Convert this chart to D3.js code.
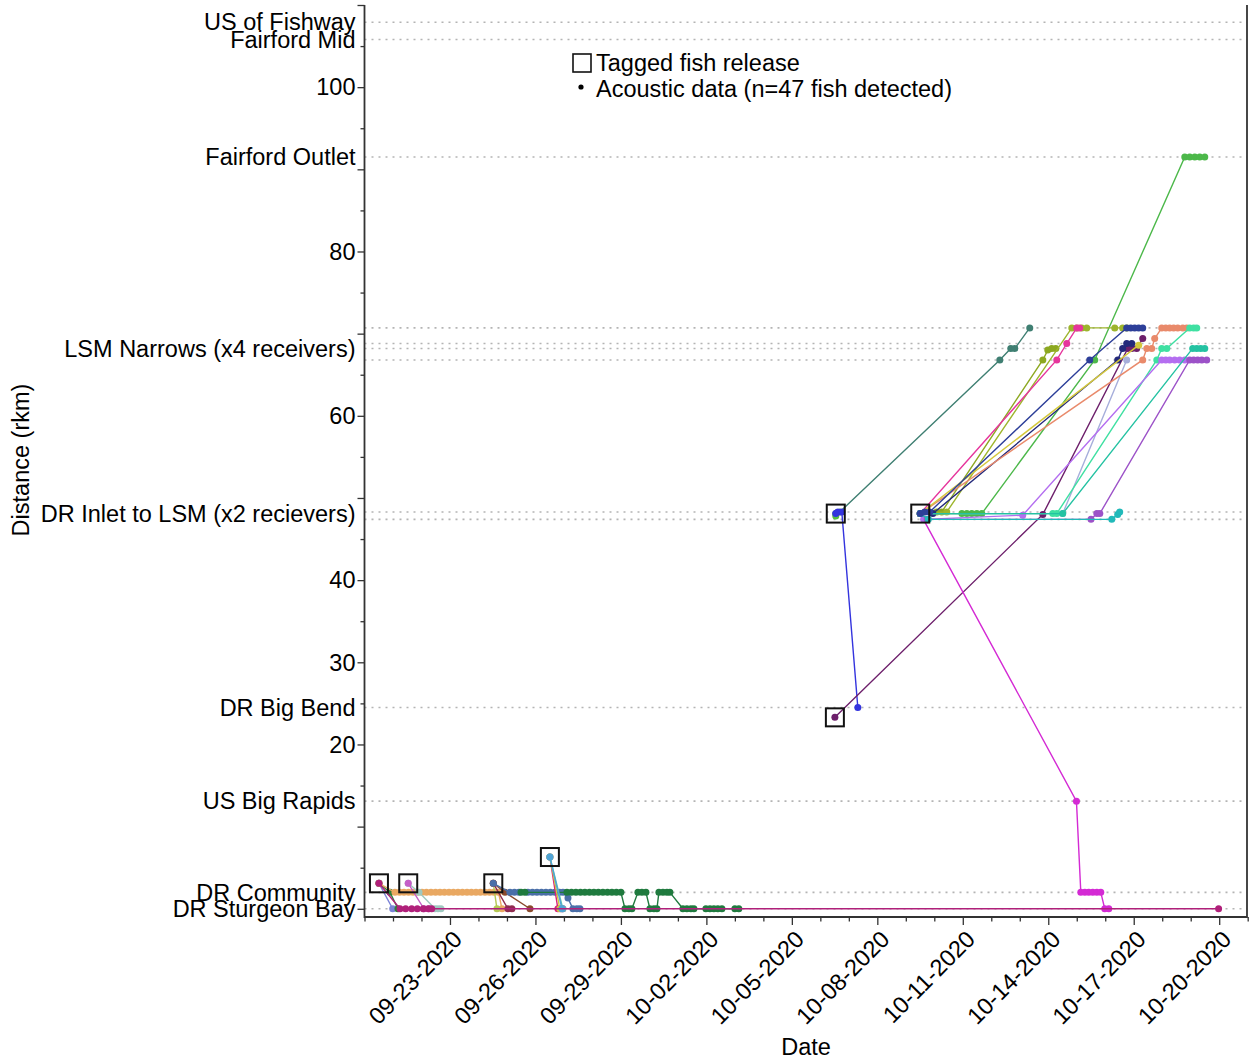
<!DOCTYPE html>
<html>
<head>
<meta charset="utf-8">
<script src="https://cdn.jsdelivr.net/npm/d3@7"></script>
<style>
  body { margin: 0; background: #fff; }
  text { font-family: "Liberation Sans", Arial, sans-serif; fill: #000; }
</style>
</head>
<body>
<svg id="chart" width="1249" height="1061"></svg>
<script>
// ---- receiver sites (river km) ----
const receiverRkm = [107.9, 105.8, 91.5, 70.7, 68.8, 68.2, 66.8, 48.3, 47.4, 24.5, 13.1, 2.0, 0];

const siteLabels = [
  { name: "US of Fishway", rkm: 107.9 },
  { name: "Fairford Mid", rkm: 105.8 },
  { name: "Fairford Outlet", rkm: 91.5 },
  { name: "LSM Narrows (x4 receivers)", rkm: 68.2 },
  { name: "DR Inlet to LSM (x2 recievers)", rkm: 48.1 },
  { name: "DR Big Bend", rkm: 24.5 },
  { name: "US Big Rapids", rkm: 13.1 },
  { name: "DR Community", rkm: 2.0 },
  { name: "DR Sturgeon Bay", rkm: 0 }
];

const yTickLabels = [20, 30, 40, 60, 80, 100];

// ---- tagged fish release events [date, rkm] ----
const releases = [
  ["09-20 12:10", 3.1],
  ["09-21 12:50", 3.1],
  ["09-24 12:30", 3.1],
  ["09-26 12:10", 6.3],
  ["10-06 13:00", 48.1],
  ["10-06 12:15", 23.3],
  ["10-09 12:10", 48.1]
];

// ---- acoustic detections, one array per fish [date, rkm] ----
const tracks = [
  // released near DR Community, 09-20 to 09-26
  [["09-20 12:10", 3.1], ["09-20 23:45", 0]],
  [["09-20 12:10", 3.1], ["09-20 21:30", 2.0], ["09-21 04:10", 0]],
  [["09-20 12:10", 3.1], ["09-21 01:40", 2], ["09-21 05:30", 2], ["09-21 09:15", 2], ["09-21 13:05", 2],
   ["09-21 16:50", 2], ["09-21 20:35", 2], ["09-22 00:25", 2], ["09-22 04:10", 2], ["09-22 08:00", 2],
   ["09-22 11:50", 2], ["09-22 15:35", 2], ["09-22 19:20", 2], ["09-22 23:10", 2], ["09-23 02:55", 2],
   ["09-23 06:45", 2], ["09-23 10:30", 2], ["09-23 14:20", 2], ["09-23 18:05", 2], ["09-23 21:55", 2],
   ["09-24 01:40", 2], ["09-24 05:30", 2], ["09-24 09:15", 2], ["09-24 13:05", 2], ["09-24 16:50", 2],
   ["09-24 19:50", 0]],
  [["09-21 12:50", 3.1], ["09-21 21:55", 2.0], ["09-22 11:25", 0], ["09-22 13:55", 0], ["09-22 16:25", 0]],
  [["09-21 12:50", 3.1], ["09-22 02:05", 0], ["09-22 06:20", 0]],
  [["09-24 12:30", 3.1], ["09-24 22:20", 2.0], ["09-25 19:25", 0]],
  [["09-24 12:30", 3.1], ["09-24 15:35", 0]],
  [["09-24 12:30", 3.1], ["09-25 00:50", 0], ["09-25 04:10", 0]],
  [["09-24 12:30", 3.1], ["09-25 02:30", 2], ["09-25 06:20", 2], ["09-25 10:05", 2], ["09-25 17:40", 2],
   ["09-25 21:30", 2], ["09-26 01:15", 2], ["09-26 05:05", 2], ["09-26 08:50", 2], ["09-26 12:40", 2],
   ["09-26 16:25", 2], ["09-26 20:10", 2], ["09-26 23:10", 2], ["09-27 03:25", 1.3], ["09-27 07:35", 0],
   ["09-27 10:55", 0], ["09-27 13:30", 0]],
  [["09-25 11:50", 2], ["09-25 15:10", 2], ["09-27 02:30", 2], ["09-27 06:20", 2], ["09-27 10:05", 2],
   ["09-27 13:55", 2], ["09-27 17:40", 2], ["09-27 21:30", 2], ["09-28 01:15", 2], ["09-28 05:00", 2],
   ["09-28 08:50", 2], ["09-28 12:40", 2], ["09-28 16:25", 2], ["09-28 20:10", 2], ["09-29 00:00", 2],
   ["09-29 03:25", 0], ["09-29 06:45", 0], ["09-29 09:15", 0],
   ["09-29 14:20", 2], ["09-29 17:40", 2], ["09-29 21:05", 2],
   ["09-30 00:25", 0], ["09-30 03:50", 0], ["09-30 06:20", 0],
   ["09-30 08:00", 2], ["09-30 11:25", 2], ["09-30 14:45", 2], ["09-30 17:15", 2],
   ["10-01 04:15", 0], ["10-01 07:35", 0], ["10-01 11:00", 0], ["10-01 13:30", 0],
   ["10-01 23:35", 0], ["10-02 03:00", 0], ["10-02 06:20", 0], ["10-02 09:40", 0], ["10-02 13:05", 0],
   ["10-03 00:00", 0], ["10-03 03:20", 0]],
  [["09-26 12:10", 6.3], ["09-26 18:55", 0], ["09-26 21:30", 0], ["09-26 23:05", 0]],
  [["09-26 12:10", 6.3], ["09-26 20:35", 0]],
  [["09-26 12:10", 6.3], ["09-26 23:05", 0]],
  [["09-26 12:10", 6.3], ["09-26 22:20", 0]],
  // released at the DR Inlet and DR Big Bend, 10-06
  [["10-06 13:00", 48.1], ["10-06 16:25", 48.3], ["10-12 07:10", 66.8], ["10-12 16:25", 68.2],
   ["10-12 19:50", 68.2], ["10-13 08:25", 70.7]],
  [["10-06 13:00", 47.8]],
  [["10-06 13:00", 48.1], ["10-06 14:40", 48.3], ["10-06 18:05", 48.3], ["10-07 07:35", 24.5]],
  [["10-06 12:15", 23.3], ["10-13 19:25", 48.0], ["10-16 19:00", 68.2], ["10-16 22:20", 68.2],
   ["10-17 02:30", 68.2], ["10-17 07:35", 69.4]],
  // released at the DR Inlet, 10-09
  [["10-09 12:10", 48.1], ["10-14 23:45", 13.1], ["10-15 03:25", 2], ["10-15 06:50", 2], ["10-15 10:05", 2],
   ["10-15 13:30", 2], ["10-15 16:55", 2], ["10-15 20:15", 2], ["10-15 23:35", 0], ["10-16 03:00", 0]],
  [["10-09 12:10", 48.1], ["10-10 23:15", 48.1], ["10-11 03:25", 48.1], ["10-11 07:35", 48.1],
   ["10-11 11:50", 48.1], ["10-11 16:00", 48.1], ["10-15 15:10", 66.8], ["10-18 19:00", 91.5],
   ["10-18 23:10", 91.5], ["10-19 03:25", 91.5], ["10-19 07:35", 91.5], ["10-19 11:50", 91.5]],
  [["10-09 12:10", 48.1], ["10-10 02:05", 48.3], ["10-10 06:15", 48.3], ["10-13 19:25", 66.8],
   ["10-13 23:35", 68.0], ["10-14 02:55", 68.2], ["10-14 06:20", 68.2]],
  [["10-09 12:10", 48.1], ["10-10 10:30", 48.3], ["10-14 19:50", 70.7], ["10-15 00:00", 70.7],
   ["10-15 04:10", 70.7], ["10-15 08:25", 70.7], ["10-16 08:00", 70.7], ["10-16 14:40", 70.7],
   ["10-16 18:05", 70.7]],
  [["10-09 12:10", 48.1], ["10-14 07:10", 66.8], ["10-14 15:35", 68.8], ["10-15 00:00", 70.7],
   ["10-15 02:30", 70.7]],
  [["10-09 12:10", 48.1], ["10-09 22:45", 48.1], ["10-16 10:30", 66.8], ["10-16 14:40", 68.2],
   ["10-16 18:05", 68.8], ["10-16 22:20", 68.8]],
  [["10-09 12:10", 48.1], ["10-14 12:10", 48.1], ["10-16 18:05", 66.8]],
  [["10-09 12:10", 48.1], ["10-17 07:35", 66.8], ["10-17 11:00", 68.2], ["10-17 15:10", 68.2],
   ["10-17 17:40", 69.4], ["10-17 23:35", 70.7], ["10-18 03:00", 70.7], ["10-18 06:20", 70.7],
   ["10-18 09:40", 70.7], ["10-18 13:05", 70.7], ["10-18 17:20", 70.7], ["10-18 20:40", 70.7]],
  [["10-09 12:10", 48.1], ["10-17 04:10", 68.6]],
  [["10-09 12:10", 48.1], ["10-14 03:50", 48.1], ["10-14 07:10", 48.1], ["10-17 19:25", 66.8],
   ["10-17 23:35", 68.2], ["10-18 03:50", 68.2], ["10-18 23:10", 70.7], ["10-19 02:30", 70.7],
   ["10-19 05:05", 70.7]],
  [["10-09 12:10", 48.1], ["10-09 15:00", 47.4], ["10-13 02:30", 47.9], ["10-17 23:35", 66.8],
   ["10-18 03:00", 66.8], ["10-18 06:20", 66.8], ["10-18 10:30", 66.8], ["10-18 14:40", 66.8],
   ["10-18 19:00", 66.8]],
  [["10-09 12:10", 48.1], ["10-09 18:00", 47.4], ["10-15 12:00", 47.4], ["10-15 16:55", 48.1],
   ["10-15 19:25", 48.1], ["10-18 23:10", 66.8], ["10-19 02:30", 66.8], ["10-19 05:55", 66.8],
   ["10-19 09:20", 66.8], ["10-19 13:30", 66.8]],
  [["10-09 12:10", 48.1], ["10-09 19:00", 47.4], ["10-16 05:30", 47.4], ["10-16 10:30", 48.0],
   ["10-16 12:10", 48.3]],
  [["10-09 12:10", 48.1], ["10-14 12:10", 48.1], ["10-19 01:40", 68.2], ["10-19 05:05", 68.2],
   ["10-19 08:25", 68.2], ["10-19 11:50", 68.2]],
  [["10-09 12:10", 48.1], ["10-09 15:55", 48.3], ["10-09 20:10", 48.3], ["10-15 10:55", 66.8],
   ["10-16 18:05", 70.7], ["10-16 21:30", 70.7], ["10-17 00:50", 70.7], ["10-17 04:10", 70.7],
   ["10-17 07:35", 70.7]],
  // long-resident fish at DR Sturgeon Bay
  [["09-20 12:10", 3.1], ["09-21 05:55", 0], ["09-21 10:40", 0], ["09-21 15:45", 0], ["09-21 20:30", 0],
   ["09-22 01:30", 0], ["09-22 05:45", 0], ["09-22 08:35", 0], ["10-19 23:30", 0]]
];

const trackColors = [
  "#7a82d6", "#2f7d3a", "#e9a862", "#9fc9c0", "#c55fc8", "#8a4a2c", "#b5c954", "#8e2c4e",
  "#4a6fa8", "#1f7a3e", "#d9207a", "#cfc640", "#5ec3b3", "#4fa3d6",
  "#3f7f72", "#55c040", "#3434de", "#6d1f6b",
  "#d42ad4", "#4cb84a", "#8ca820", "#9db52c", "#e6359c", "#24297a", "#a6aedb",
  "#e98a6b", "#d4c83c", "#3fe0a2", "#b46ef0", "#9c52c8", "#21b9b9", "#24c2a2", "#2d3f99",
  "#b0207a"
];

// ---- layout ----
const parse = s => d3.timeParse("%Y-%m-%d %H:%M")("2020-" + s);
const plot = { left: 364.5, right: 1247, top: 5, bottom: 917 };

const x = d3.scaleTime()
  .domain([new Date(2020, 8, 20), new Date(2020, 9, 21)])
  .range([plot.left, plot.left + 31 * 28.49]);
const y = d3.scaleLinear().domain([-1, 110]).range([plot.bottom, plot.top]);

const svg = d3.select("#chart");
const FS = 23.5;

// receiver reference lines
svg.append("g").selectAll("line").data(receiverRkm).join("line")
  .attr("x1", plot.left).attr("x2", plot.right)
  .attr("y1", d => y(d)).attr("y2", d => y(d))
  .attr("stroke", "#b4b4b4").attr("stroke-width", 1.6)
  .attr("stroke-dasharray", "2,5");

// fish tracks: connecting line plus a dot per detection
const line = d3.line().x(d => x(parse(d[0]))).y(d => y(d[1]));
const tg = svg.append("g");
tracks.forEach((pts, i) => {
  const g = tg.append("g");
  g.append("path").datum(pts).attr("d", line)
    .attr("fill", "none").attr("stroke", trackColors[i]).attr("stroke-width", 1.4);
  g.selectAll("circle").data(pts).join("circle")
    .attr("cx", d => x(parse(d[0]))).attr("cy", d => y(d[1])).attr("r", 3.5)
    .attr("fill", trackColors[i]);
});

// release squares
svg.append("g").selectAll("rect").data(releases).join("rect")
  .attr("x", d => x(parse(d[0])) - 9).attr("y", d => y(d[1]) - 9)
  .attr("width", 18).attr("height", 18)
  .attr("fill", "none").attr("stroke", "#111").attr("stroke-width", 2);

// y axis
const yAxis = svg.append("g").attr("transform", `translate(${plot.left},0)`)
  .call(d3.axisLeft(y).tickValues(d3.range(0, 111, 5)).tickSize(0).tickFormat(""));
yAxis.select(".domain").remove();
yAxis.selectAll(".tick line").attr("x2", d => d % 10 === 0 ? -7 : -4)
  .attr("stroke", "#333").attr("stroke-width", 1.3);
svg.append("g").selectAll("text").data(yTickLabels).join("text")
  .attr("x", plot.left - 9).attr("y", d => y(d)).attr("dy", "0.35em")
  .attr("text-anchor", "end").attr("font-size", FS).text(d => d);
svg.append("g").selectAll("text").data(siteLabels).join("text")
  .attr("x", plot.left - 9).attr("y", d => y(d.rkm)).attr("dy", "0.35em")
  .attr("text-anchor", "end").attr("font-size", FS).text(d => d.name);

// x axis
const fmt = d3.timeFormat("%m-%d-%Y");
const majorDays = d3.timeDay.range(new Date(2020, 8, 23), new Date(2020, 9, 21), 3);
const xAxis = svg.append("g").attr("transform", `translate(0,${plot.bottom})`)
  .call(d3.axisBottom(x).ticks(d3.timeDay.every(1)).tickSize(0).tickFormat(""));
xAxis.select(".domain").remove();
const isMajor = d => majorDays.some(m => +m === +d);
xAxis.selectAll(".tick line").attr("y2", d => isMajor(d) ? 8 : 4.5)
  .attr("stroke", "#333").attr("stroke-width", 1.3);
svg.append("g").selectAll("text").data(majorDays).join("text")
  .attr("transform", d => `translate(${x(d) + 2},${plot.bottom + 12}) rotate(-45)`)
  .attr("text-anchor", "end").attr("dy", "0.7em").attr("font-size", FS).text(fmt);

// axis lines: left, bottom and right
svg.append("path")
  .attr("d", `M${plot.left},${plot.top}V${plot.bottom}H${plot.right}V${plot.top}`)
  .attr("fill", "none").attr("stroke", "#333").attr("stroke-width", 1.8);

// axis titles
svg.append("text").attr("transform", "translate(29,460) rotate(-90)")
  .attr("text-anchor", "middle").attr("font-size", FS).text("Distance (rkm)");
svg.append("text").attr("x", 806).attr("y", 1055)
  .attr("text-anchor", "middle").attr("font-size", FS).text("Date");

// legend
const lg = svg.append("g");
lg.append("rect").attr("x", 573).attr("y", 54).attr("width", 18).attr("height", 18)
  .attr("fill", "none").attr("stroke", "#111").attr("stroke-width", 1.6);
lg.append("text").attr("x", 596).attr("y", 71).attr("font-size", FS).text("Tagged fish release");
lg.append("circle").attr("cx", 581).attr("cy", 87).attr("r", 2.6).attr("fill", "#000");
lg.append("text").attr("x", 596).attr("y", 97).attr("font-size", FS).text("Acoustic data (n=47 fish detected)");
</script>
</body>
</html>
